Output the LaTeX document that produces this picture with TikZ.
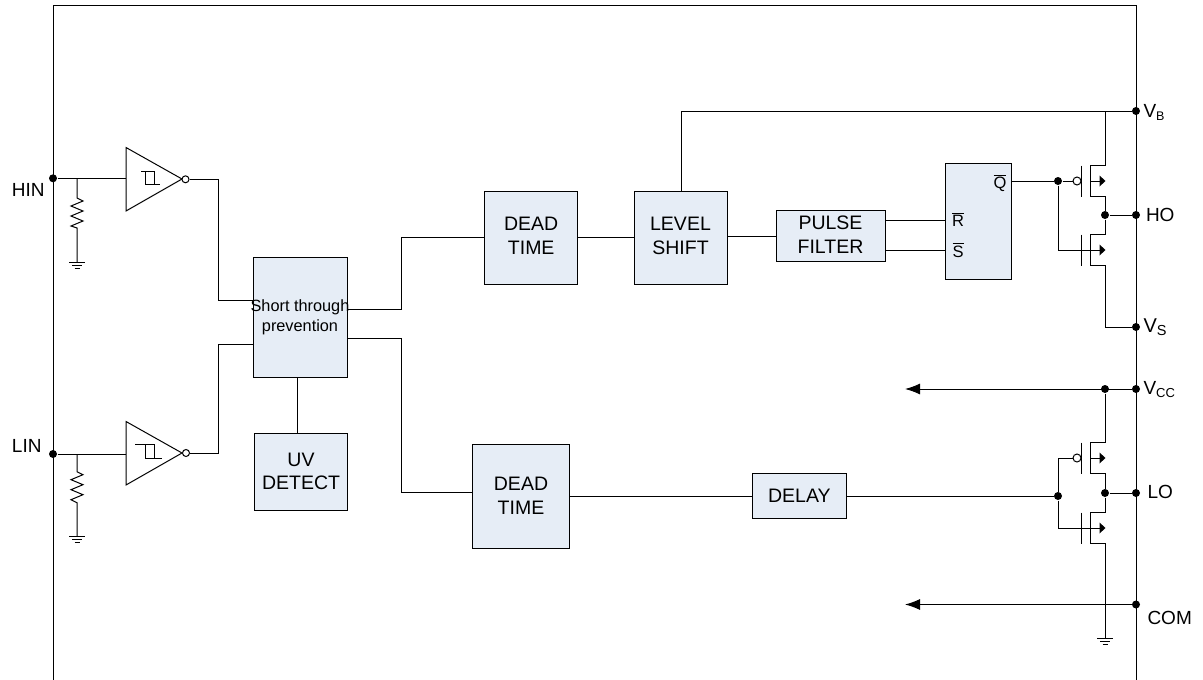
\documentclass[tikz,border=0pt]{standalone}
\usepackage{amsmath}
\usepackage{fontspec}
\setmainfont{Liberation Sans}
\usetikzlibrary{arrows.meta}
\definecolor{boxfill}{HTML}{E6EDF6}
\newcommand{\pinsub}[3][13]{#2\raisebox{-3pt}{\fontsize{#1}{13}\selectfont #3}}
\tikzset{
  blockbox/.style={draw, fill=boxfill, align=center, inner sep=0pt, outer sep=0pt, font=\fontsize{19.5}{23.5}\selectfont},
  pindot/.style={circle, fill=black, inner sep=0pt, minimum size=8pt},
  notdot/.style={circle, draw, fill=white, inner sep=0pt, minimum size=8pt},
  pinlabel/.style={anchor=base west, inner sep=0pt, font=\fontsize{19}{24}\selectfont},
  latchlabel/.style={inner sep=0pt, font=\fontsize{16.5}{20}\selectfont},
  pinarrow/.style={-{Latex[length=15pt,width=11pt]}},
  groundbars/.pic={
    \draw (-8,0)--(8,0);
    \draw (-5,3)--(5,3);
    \draw (-2.5,6)--(2.5,6);
  },
  invshape/.pic={
    \draw (0,-31.5)--(0,32)--(56,0)--cycle;
  },
  mosdev/.pic={
    \draw (0,-15.5)--(0,15.5);
    \draw (24,-15.5)--(8.5,-15.5)--(8.5,15.5)--(24,15.5);
    \draw (8.5,0)--(19,0);
    \fill (18,-5.5)--(24,0)--(18,5.5)--cycle;
  },
}
\begin{document}
\begin{tikzpicture}[x=1pt, y=-1pt, line width=1pt]
  \useasboundingbox (0,0) rectangle (1203,680);
  \draw (53,680)--(53,5)--(1136,5)--(1136,680);
  % blocks
  \node[blockbox, minimum width=94pt, minimum height=120pt, font=\fontsize{16.3}{20}\selectfont] (prevent) at (300,317) {\makebox[0pt]{Short through}\\prevention};
  \node[blockbox, minimum width=92.5pt, minimum height=77pt] (uvdetect) at (301,471.5) {UV\\DETECT};
  \node[blockbox, minimum width=93pt, minimum height=92.5pt, text depth=4pt] (deadhi) at (531.2,238) {DEAD\\TIME};
  \node[blockbox, minimum width=93pt, minimum height=92.5pt, text depth=4pt] (shift) at (680.5,238) {LEVEL\\SHIFT};
  \node[blockbox, minimum width=109pt, minimum height=51pt, text depth=3.5pt] (filter) at (830.5,236.3) {PULSE\\FILTER};
  \node[blockbox, minimum width=65.5pt, minimum height=116pt] (latch) at (978.5,221.3) {};
  \node[blockbox, minimum width=96.5pt, minimum height=104.3pt, text depth=2pt] (deadlo) at (521,496.8) {DEAD\\TIME};
  \node[blockbox, minimum width=93.3pt, minimum height=45pt] (delay) at (799.4,495.8) {DELAY};
  \node[latchlabel] (qlabel) at (1000,183) {$\overline{\text{Q}}$};
  \node[latchlabel] (rlabel) at (958,219.5) {$\overline{\text{R}}$};
  \node[latchlabel] (slabel) at (958,250) {$\overline{\text{S}}$};
  % pins
  \node[pindot] (hin) at (53,178.3) {};
  \node[pindot] (lin) at (53,454) {};
  \node[pindot] (vb) at (1136,111) {};
  \node[pindot] (ho) at (1136,215) {};
  \node[pindot] (vs) at (1136,327) {};
  \node[pindot] (vcc) at (1136,389) {};
  \node[pindot] (lo) at (1136,493) {};
  \node[pindot] (com) at (1136,604.5) {};
  \node[pinlabel] (hinlabel) at (11.5,196) {HIN};
  \node[pinlabel] (linlabel) at (11.5,452.3) {LIN};
  \node[pinlabel] (vblabel) at (1143,117) {\pinsub[12.5]{V}{B}};
  \node[pinlabel] (holabel) at (1145.5,221) {HO};
  \node[pinlabel, font=\fontsize{20}{24}\selectfont] (vslabel) at (1143,332) {\pinsub[14.5]{V}{S}};
  \node[pinlabel] (vcclabel) at (1143,394) {\pinsub{V}{CC}};
  \node[pinlabel] (lolabel) at (1147,498) {LO};
  \node[pinlabel] (comlabel) at (1147,624) {COM};
  % inputs
  \pic at (126,179) {invshape};
  \pic at (126,453) {invshape};
  \draw (141,171)--(154,171)--(154,184);
  \draw (145,171)--(145,184)--(160,184);
  \draw (135,444.5)--(154,444.5)--(154,458);
  \draw (145,444.5)--(145,458)--(161.5,458);
  \node[notdot, minimum size=7pt] (hinnot) at (185.5,179.3) {};
  \node[notdot, minimum size=7pt] (linnot) at (186,453) {};
  \coordinate (hintap) at (77,178.3);
  \coordinate (lintap) at (77,454);
  \coordinate (hininv) at (126,178.3);
  \coordinate (lininv) at (126,454);
  \coordinate (hingnd) at (77,262);
  \coordinate (lingnd) at (77,536.5);
  \draw (hin)--(hininv);
  \draw (lin)--(lininv);
  \draw (hintap)--++(0,19.7)--++(6,3)--++(-12,5)--++(12,5)--++(-12,5)--++(12,5)--++(-12,5)--++(6,2)--(hingnd);
  \draw (lintap)--++(0,17.7)--++(6,3)--++(-12,5)--++(12,5)--++(-12,5)--++(12,5)--++(-12,5)--++(6,3)--(lingnd);
  \pic at (hingnd) {groundbars};
  \pic at (lingnd) {groundbars};
  % logic wires
  \coordinate (prehi) at (253,300);
  \coordinate (prelo) at (253,344.5);
  \coordinate (posthi) at (347,309.5);
  \coordinate (postlo) at (347,338.7);
  \draw (hinnot)-|(218,300)--(prehi);
  \draw (linnot)-|(218,344.5)--(prelo);
  \draw (prevent.south -| 297.3,0)--(uvdetect.north -| 297.3,0);
  \draw (posthi)-|(401.7,237.7)--(deadhi.west |- 0,237.7);
  \draw (postlo)-|(401.7,492.7)--(deadlo.west |- 0,492.7);
  \draw (deadhi.east |- 0,237.7)--(shift.west |- 0,237.7);
  \draw (shift.east |- 0,236)--(filter.west |- 0,236);
  \draw (filter.east |- 0,220)--(latch.west |- 0,220);
  \draw (filter.east |- 0,250)--(latch.west |- 0,250);
  \draw (vb)-|(shift.north -| 681,0);
  \draw (deadlo.east |- 0,496)--(delay.west |- 0,496);
  % high side
  \node[notdot] (honot) at (1077,181) {};
  \node[pindot] (hogate) at (1058,181) {};
  \node[pindot] (hotap) at (1105,215) {};
  \coordinate (hoout) at (1081.5,250);
  \draw (latch.east |- hogate)--(hogate)--(honot);
  \draw (hogate)|-(hoout);
  \draw (hotap)--(ho);
  \pic at (1081.5,181) {mosdev};
  \pic at (1081.5,250) {mosdev};
  \draw (hoout)--++(8.5,0);
  \draw (vb -| hotap)--++(0,54.5);
  \draw (hotap)--++(0,-19.5);
  \draw (hotap)--++(0,19.5);
  \draw (vs)-|(1105.5,265.5);
  % low side
  \node[notdot] (lonot) at (1077,458) {};
  \node[pindot] (logate) at (1058,496) {};
  \node[pindot] (lotap) at (1105,493) {};
  \node[pindot] (vcctap) at (1105,389) {};
  \coordinate (loout) at (1081.5,528);
  \coordinate (logrnd) at (1105,638);
  \coordinate (vccend) at (905,389);
  \coordinate (comend) at (905,604.5);
  \draw (delay.east |- logate)--(logate);
  \draw (logate)|-(lonot);
  \draw (logate)|-(loout);
  \draw (lotap)--(lo);
  \pic at (1081.5,458) {mosdev};
  \pic at (1081.5,528) {mosdev};
  \draw (loout)--++(8.5,0);
  \draw (vcctap)--++(0,53.5);
  \draw (lotap)--++(0,-19.5);
  \draw (lotap)--++(0,19.5);
  \draw (lotap |- loout)++(0,15.5)--(logrnd);
  \pic at (logrnd) {groundbars};
  \draw[pinarrow] (vcc)--(vccend);
  \draw[pinarrow] (com)--(comend);
\end{tikzpicture}
\end{document}
